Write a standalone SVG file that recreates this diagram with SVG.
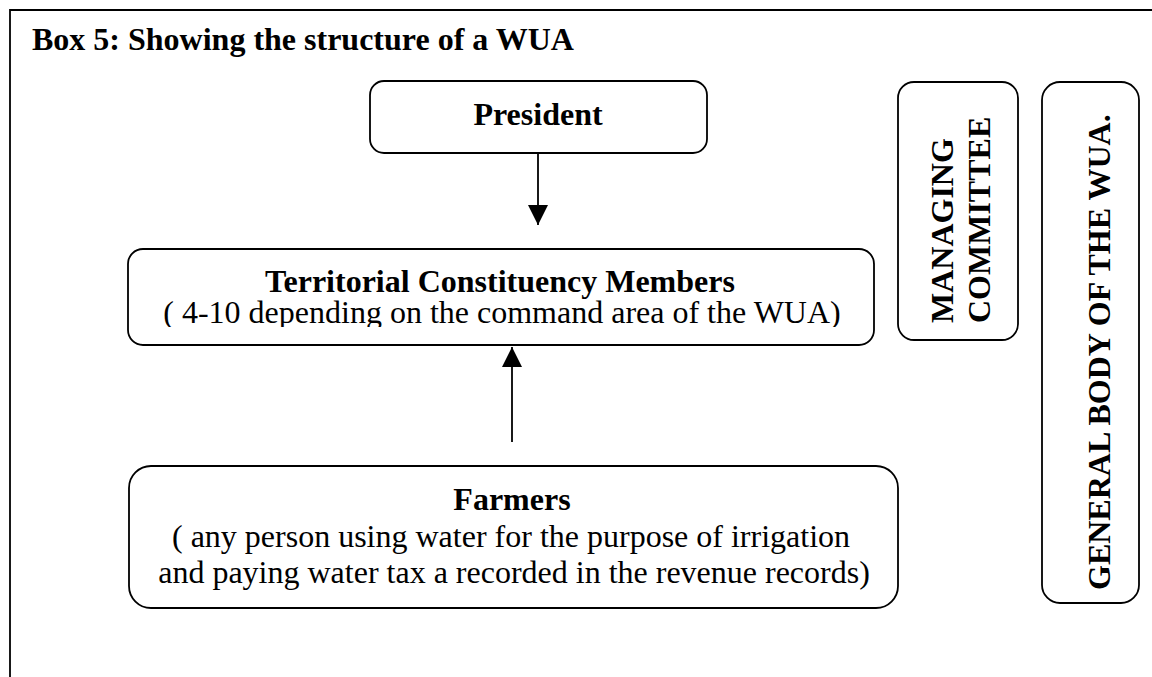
<svg xmlns="http://www.w3.org/2000/svg" width="1152" height="677" viewBox="0 0 1152 677">
<style>
.box{fill:#fff;stroke:#000;stroke-width:1.8}
.b{font-family:"Liberation Serif","Times New Roman",serif;font-weight:bold;font-size:32px;fill:#000}
.r{font-family:"Liberation Serif","Times New Roman",serif;font-size:32px;fill:#000}
.ln{stroke:#000;stroke-width:1.8;fill:none}
</style>
<defs>
<marker id="ah" viewBox="0 0 20 20" refX="20" refY="10" markerWidth="20" markerHeight="20" markerUnits="userSpaceOnUse" orient="auto">
<path d="M0,0 L20,10 L0,20 Z" fill="#000"/>
</marker>
<clipPath id="c1"><rect x="128" y="300" width="746" height="27"/></clipPath>
</defs>
<rect width="1152" height="677" fill="#fff"/>
<g id="frame">
<path class="ln" d="M10,677 V10 H1152"/>
<text x="32" y="50" class="b">Box 5: Showing the structure of a WUA</text>
</g>
<g id="president">
<rect class="box" x="370" y="81" width="337" height="72" rx="14"/>
<text x="538" y="125" class="b" text-anchor="middle">President</text>
</g>
<g id="territorial">
<rect class="box" x="128" y="249" width="746" height="96" rx="15"/>
<text x="500" y="292" class="b" text-anchor="middle">Territorial Constituency Members</text>
<text x="502" y="323" class="r" text-anchor="middle" clip-path="url(#c1)">( 4-10 depending on the command area of the WUA)</text>
</g>
<g id="farmers">
<rect class="box" x="129" y="466" width="769" height="142" rx="22"/>
<text x="512" y="510" class="b" text-anchor="middle">Farmers</text>
<text x="511" y="547" class="r" text-anchor="middle">( any person using water for the purpose of irrigation</text>
<text x="514" y="583" class="r" text-anchor="middle">and paying water tax a recorded in the revenue records)</text>
</g>
<g id="managing">
<rect class="box" x="898" y="82" width="120" height="258" rx="16"/>
<text transform="translate(953,323) rotate(-90)" class="b">MANAGING</text>
<text transform="translate(990,323) rotate(-90)" class="b">COMMITTEE</text>
</g>
<g id="general">
<rect class="box" x="1042" y="82" width="97" height="521" rx="18"/>
<text transform="translate(1110,590) rotate(-90)" class="b">GENERAL BODY OF THE WUA.</text>
</g>
<g id="connectors">
<line class="ln" x1="538" y1="153" x2="538" y2="225" marker-end="url(#ah)"/>
<line class="ln" x1="512" y1="442" x2="512" y2="347" marker-end="url(#ah)"/>
</g>
</svg>
